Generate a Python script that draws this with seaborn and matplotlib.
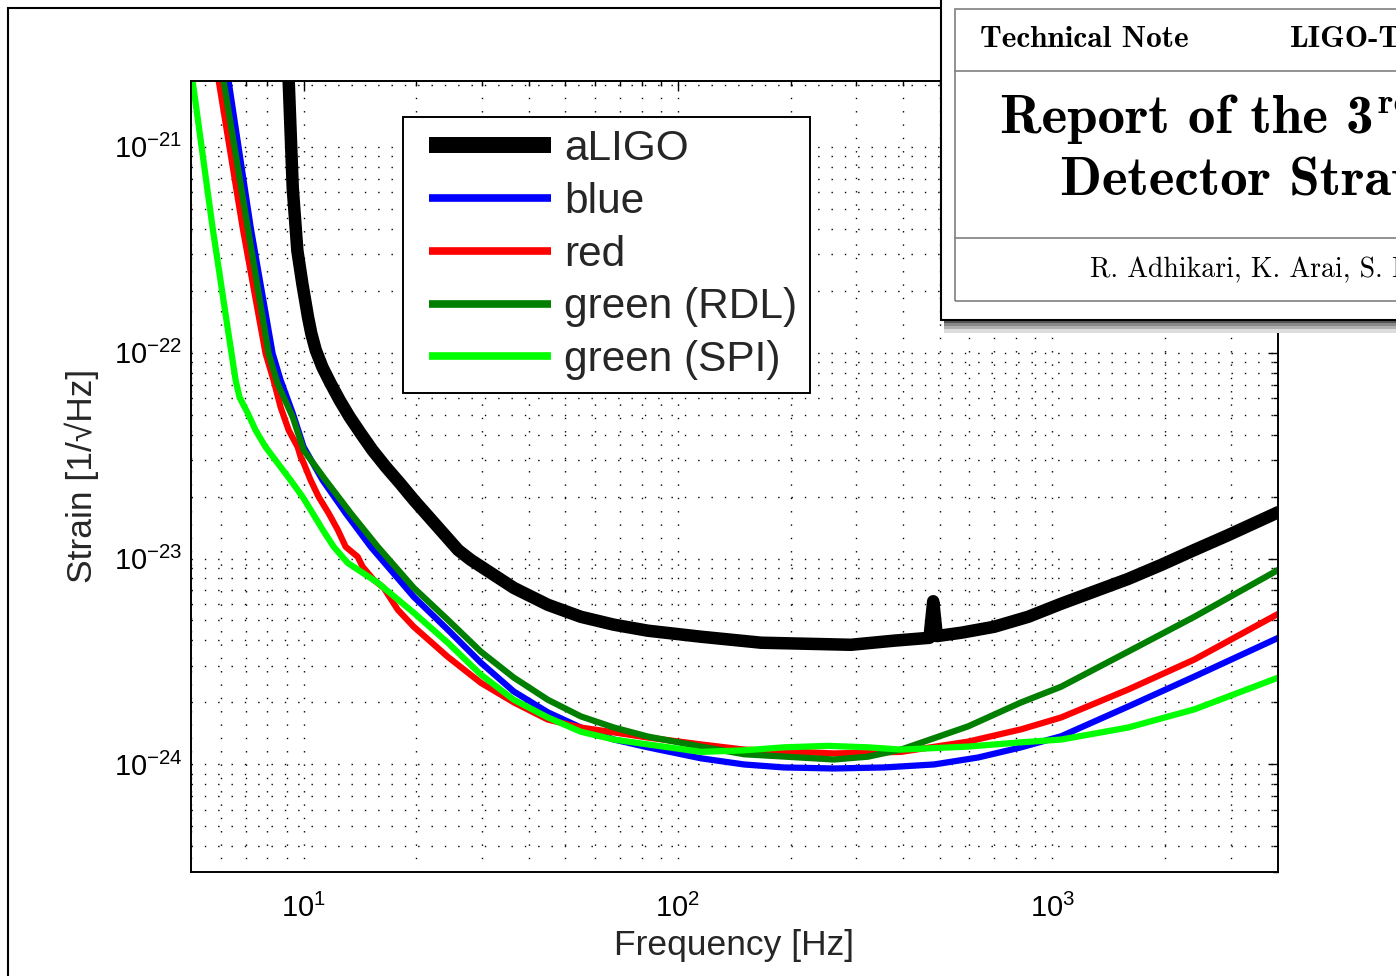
import matplotlib.pyplot as plt
import matplotlib.ticker as mticker
import seaborn as sns
from matplotlib.legend_handler import HandlerLine2D
from matplotlib.lines import Line2D
from matplotlib.patches import Rectangle

# noise curves: frequency [Hz], strain [1/sqrt(Hz)]
aligo_f = [9.0, 9.12, 9.35, 9.62, 9.92, 10.27, 10.48, 10.77, 11.22, 11.81, 12.48, 13.27,
           14.21, 15.27, 16.57, 18.09, 19.72, 21.55, 23.58, 25.86, 27.96, 36.43, 44.92,
           55.05, 67.44, 83.14, 115.2, 166.7, 290.1, 378.1, 470, 481, 492, 571.2, 699.7,
           862.6, 1057, 1596, 1956, 2398, 2956, 4020]
aligo_h = [1e-20, 2.09e-21, 6.32e-22, 3.13e-22, 2.16e-22, 1.49e-22, 1.24e-22, 1.03e-22,
           8.51e-23, 7.07e-23, 5.87e-23, 4.87e-23, 4.05e-23, 3.36e-23, 2.79e-23, 2.32e-23,
           1.92e-23, 1.60e-23, 1.33e-23, 1.10e-23, 9.85e-24, 7.20e-24, 5.96e-24, 5.21e-24,
           4.77e-24, 4.46e-24, 4.17e-24, 3.90e-24, 3.81e-24, 3.99e-24, 4.12e-24, 6.2e-24,
           4.2e-24, 4.36e-24, 4.66e-24, 5.21e-24, 6.03e-24, 7.96e-24, 9.31e-24, 1.10e-23,
           1.30e-23, 1.68e-23]

blue_f = [6.0, 6.30, 7.22, 8.26, 8.68, 9.35, 10.0, 11.24, 12.95, 15.11, 19.69, 24.27,
          29.74, 36.43, 44.92, 55.05, 67.44, 83.14, 115.2, 150.2, 192.0, 261.3, 355.5,
          483.7, 634.1, 826.3, 1057, 1596, 2398, 4020]
blue_h = [3.77e-21, 2.09e-21, 4.05e-22, 9.92e-23, 7.34e-23, 5.08e-23, 3.48e-23, 2.40e-23,
          1.66e-23, 1.14e-23, 6.51e-24, 4.51e-24, 3.12e-24, 2.26e-24, 1.79e-24, 1.51e-24,
          1.32e-24, 1.21e-24, 1.07e-24, 9.99e-25, 9.66e-25, 9.55e-25, 9.66e-25, 9.99e-25,
          1.08e-24, 1.21e-24, 1.37e-24, 1.91e-24, 2.67e-24, 4.12e-24]

red_f = [5.50, 5.93, 6.87, 7.91, 8.31, 8.68, 9.12, 9.64, 9.82, 10.0, 10.44, 10.97, 11.66,
         12.33, 12.95, 13.94, 14.38, 15.39, 16.37, 17.84, 19.69, 24.27, 29.74, 36.43,
         44.92, 55.05, 67.44, 83.14, 115.2, 150.2, 261.3, 394.8, 596.3, 826.3, 1057, 1596,
         2398, 4020]
red_h = [5.1e-21, 2.09e-21, 4.05e-22, 9.92e-23, 7.34e-23, 5.43e-23, 4.20e-23, 3.48e-23,
         3.11e-23, 2.91e-23, 2.40e-23, 1.99e-23, 1.66e-23, 1.38e-23, 1.14e-23, 1.02e-23,
         9.11e-24, 7.87e-24, 7.20e-24, 5.64e-24, 4.66e-24, 3.33e-24, 2.49e-24, 2.0e-24,
         1.65e-24, 1.51e-24, 1.43e-24, 1.35e-24, 1.25e-24, 1.18e-24, 1.13e-24, 1.15e-24,
         1.29e-24, 1.48e-24, 1.69e-24, 2.31e-24, 3.23e-24, 5.39e-24]

rdl_f = [5.82, 6.11, 7.09, 8.06, 8.52, 9.35, 10.0, 11.45, 13.36, 15.78, 19.69, 24.27,
         29.74, 36.43, 44.92, 55.05, 67.44, 83.14, 115.2, 150.2, 261.3, 322.1, 394.8,
         596.3, 826.3, 1057, 1596, 2398, 4020]
rdl_h = [3.61e-21, 2.09e-21, 4.05e-22, 9.92e-23, 7.07e-23, 4.86e-23, 3.36e-23, 2.40e-23,
         1.66e-23, 1.14e-23, 7.20e-24, 5.04e-24, 3.53e-24, 2.64e-24, 2.06e-24, 1.71e-24,
         1.51e-24, 1.365e-24, 1.22e-24, 1.12e-24, 1.056e-24, 1.09e-24, 1.18e-24, 1.53e-24,
         2.0e-24, 2.385e-24, 3.53e-24, 5.21e-24, 8.81e-24]

spi_f = [4.9, 5.05, 5.71, 6.26, 6.58, 6.74, 7.09, 7.44, 7.91, 8.52, 9.23, 9.94, 10.57,
         11.24, 12.03, 13.11, 15.78, 19.69, 24.27, 29.74, 36.43, 44.92, 55.05, 67.44,
         83.14, 115.2, 150.2, 192.0, 251.8, 322.1, 394.8, 596.3, 826.3, 1057, 1596, 2398,
         4020]
spi_h = [2.83e-21, 2.09e-21, 4.05e-22, 1.33e-22, 7.34e-23, 6.07e-23, 5.08e-23, 4.20e-23,
         3.48e-23, 2.91e-23, 2.40e-23, 1.99e-23, 1.66e-23, 1.38e-23, 1.14e-23, 9.52e-24,
         7.62e-24, 5.45e-24, 3.90e-24, 2.73e-24, 2.06e-24, 1.69e-24, 1.44e-24, 1.32e-24,
         1.25e-24, 1.15e-24, 1.17e-24, 1.21e-24, 1.23e-24, 1.21e-24, 1.18e-24, 1.22e-24,
         1.28e-24, 1.32e-24, 1.51e-24, 1.85e-24, 2.64e-24]

names = ['aLIGO', 'blue', 'red', 'green (RDL)', 'green (SPI)']
colors = ['black', '#0000ff', '#ff0000', '#007f00', '#00ff00']

sns.set_style('white')
plt.rcParams['font.family'] = ['Liberation Sans', 'DejaVu Sans']
plt.rcParams['mathtext.fontset'] = 'custom'
plt.rcParams['mathtext.rm'] = 'Liberation Sans'
plt.rcParams['mathtext.it'] = 'Liberation Sans:italic'
plt.rcParams['mathtext.bf'] = 'Liberation Sans:bold'

W, H = 1396, 976
fig = plt.figure(figsize=(W / 100, H / 100), dpi=100)
fig.patch.set_facecolor('white')
ax = fig.add_axes([191 / W, 1 - 872 / H, (1277.5 - 191) / W, (872 - 80.5) / H])

series = [(aligo_f, aligo_h, 9), (blue_f, blue_h, 4.5), (red_f, red_h, 4.5),
          (rdl_f, rdl_h, 4.5), (spi_f, spi_h, 4.5)]
for (f, h, lw), name, c in zip(series, names, colors):
    sns.lineplot(x=f, y=h, color=c, lw=lw, label=name, ax=ax, estimator=None,
                 sort=False, legend=False, solid_capstyle='round', solid_joinstyle='round')

ax.set(xscale='log', yscale='log')
ax.set_xlim(5, 4000)
ax.set_ylim(3e-25, 2.1e-21)
for axis in (ax.xaxis, ax.yaxis):
    axis.set_major_locator(mticker.LogLocator(base=10, numticks=20))
    axis.set_minor_locator(mticker.LogLocator(base=10, subs=range(2, 10), numticks=20))
    axis.set_minor_formatter(mticker.NullFormatter())

ax.tick_params(which='both', direction='in', top=True, right=True, width=1, color='black',
               labelsize=21, labelcolor='black')
ax.tick_params(which='major', length=7)
ax.tick_params(which='minor', length=3.6)
ax.tick_params(axis='x', pad=16)
ax.tick_params(axis='y', pad=6)
ax.grid(True, which='both', color='black', lw=1.0, linestyle=(0, (1, 8.6)))
for s in ax.spines.values():
    s.set_linewidth(1.4)
    s.set_color('black')

ax.set_xlabel('Frequency [Hz]', fontsize=25.5, labelpad=4)
ax.set_ylabel('Strain [1/√Hz]', fontsize=25.5, labelpad=11)

leg = ax.legend(ax.lines[:5], names, loc='upper left', bbox_to_anchor=(0.1952, 0.9545),
                borderaxespad=0, fontsize=30.5, frameon=True, fancybox=False, framealpha=1,
                edgecolor='black', borderpad=0.3, labelspacing=0.3, handlelength=3.2,
                handletextpad=0.3, handler_map={Line2D: HandlerLine2D(xpad=0.31)})
leg.get_frame().set_linewidth(1.4)
for line, lw in zip(leg.get_lines(), [11.5, 5.5, 5.5, 5.5, 5.5]):
    line.set_linewidth(lw)
    line.set_solid_capstyle('butt')


def px(x, y):
    return x / W, 1 - y / H


# slide frame
fig.add_artist(Rectangle((8 / W, -0.1), 2, 1 - 8 / H + 0.1, fill=False, lw=1.5,
                         ec='black', transform=fig.transFigure, zorder=1))

# pasted title page of the technical note, with its shadow
for y0, y1, g in [(320, 323, '#555555'), (323, 326, '#888888'), (326, 329, '#b0b0b0'),
                  (329, 333, '#dddddd')]:
    fig.add_artist(Rectangle(px(944, y1), 1, (y1 - y0) / H, fc=g, ec='none',
                             transform=fig.transFigure, zorder=9))
fig.add_artist(Rectangle(px(941, 320), 1, 340 / H, fc='white', ec='black', lw=1.5,
                         transform=fig.transFigure, zorder=10))
fig.add_artist(Rectangle(px(955, 301), 1, (301 - 9) / H, fill=False, ec='#7f7f7f', lw=1.2,
                         transform=fig.transFigure, zorder=11))
for yl in (71, 238):
    fig.add_artist(Line2D([955 / W, 1.1], [1 - yl / H] * 2, color='#7f7f7f', lw=1.2,
                          transform=fig.transFigure, zorder=11))

note = dict(va='baseline', ha='left', color='black', zorder=12)
fig.text(*px(980, 47), 'Technical Note', family='cmb10', fontsize=22.5, **note)
fig.text(*px(1290, 47), 'LIGO-T1200031', family='cmb10', fontsize=22.5, **note)
fig.text(*px(1000, 133), 'Report of the 3', family='cmb10', fontsize=39.5, **note)
fig.text(*px(1378, 113), 'rd Generation LIGO', family='cmb10', fontsize=26, **note)
fig.text(*px(1060, 195), 'Detector Strawman Workshop', family='cmb10', fontsize=39.5, **note)
fig.text(*px(1090, 277), 'R. Adhikari, K. Arai, S. Ballmer', family='cmr10', fontsize=20, **note)

plt.savefig('out.png', dpi=100, facecolor='white')
